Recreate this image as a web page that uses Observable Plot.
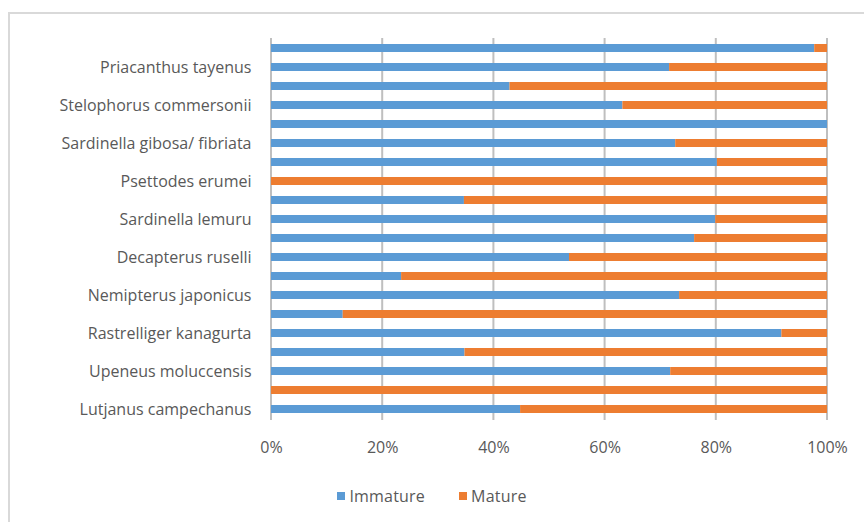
<!DOCTYPE html>
<html>
<head>
<meta charset="utf-8">
<script src="https://cdn.jsdelivr.net/npm/d3@7"></script>
<script src="https://cdn.jsdelivr.net/npm/@observablehq/plot@0.6"></script>
<style>
  html, body { margin: 0; padding: 0; background: #fff; }
  #wrap { position: relative; width: 864px; height: 522px; overflow: hidden; font-family: "Open Sans", sans-serif; }
  #frame { position: absolute; left: 8px; top: 12px; right: -4px; bottom: -4px;
           border-top: 2px solid #d9d9d9; border-left: 2px solid #d9d9d9; pointer-events: none; }
  #chart { position: absolute; left: 0; top: 0; }
  #legend { position: absolute; left: 0; width: 864px; top: 485px; display: flex; justify-content: center;
            gap: 34px; font-size: 16px; color: #595959; letter-spacing: 0.2px; }
  #legend span { display: inline-flex; align-items: center; gap: 4px; }
  #legend i { display: inline-block; width: 8px; height: 8px; }
</style>
</head>
<body>
<div id="wrap">
  <div id="frame"></div>
  <div id="chart"></div>
  <div id="legend"></div>
</div>
<script>
// Species rows, top to bottom; only every other row carries a label on the axis.
const species = [
  "", "Priacanthus tayenus",
  "", "Stelophorus commersonii",
  "", "Sardinella gibosa/ fibriata",
  "", "Psettodes erumei",
  "", "Sardinella lemuru",
  "", "Decapterus ruselli",
  "", "Nemipterus japonicus",
  "", "Rastrelliger kanagurta",
  "", "Upeneus moluccensis",
  "", "Lutjanus campechanus"
];

// Share of each maturity stage (%), same row order as above.
const immature = [97.7, 71.6, 42.9, 63.2, 100, 72.7, 80.2, 0, 34.7, 79.9,
                  76.1, 53.6, 23.4, 73.4, 12.9, 91.8, 34.8, 71.8, 0, 44.8];
const mature   = [2.3, 28.4, 57.1, 36.8, 0, 27.3, 19.8, 100, 65.3, 20.1,
                  23.9, 46.4, 76.6, 26.6, 87.1, 8.2, 65.2, 28.2, 100, 55.2];

const stages = ["Immature", "Mature"];
const colors = ["#5b9bd5", "#ed7d31"];
const xTicks = [0, 20, 40, 60, 80, 100];

const rows = species.map((_, i) => i);
const data = [];
rows.forEach(i => {
  data.push({row: i, stage: "Immature", value: immature[i]});
  data.push({row: i, stage: "Mature", value: mature[i]});
});

const chart = Plot.plot({
  width: 864,
  height: 470,
  marginTop: 38,
  marginBottom: 50,
  marginLeft: 271,
  marginRight: 37,
  style: {fontFamily: "'Open Sans', sans-serif", fontSize: "16px", color: "#595959", background: "transparent"},
  x: {domain: [0, 100]},
  y: {domain: rows, paddingInner: 0.56, paddingOuter: 0.28},
  color: {domain: stages, range: colors},
  marks: [
    // vertical gridlines at every 20%, snapped to whole pixels
    Plot.ruleX(xTicks, {x: d => d, stroke: "#bfbfbf", strokeWidth: 2, dx: -0.5}),
    Plot.barX(data, Plot.stackX({x: "value", y: "row", fill: "stage", order: stages})),
    Plot.axisX(xTicks, {tickSize: 0, tickPadding: 21, tickFormat: d => d + "%", label: null, fontSize: 16}),
    Plot.axisY(rows, {tickSize: 0, tickPadding: 20, tickFormat: i => species[i], label: null, fontSize: 16})
  ]
});
document.getElementById("chart").appendChild(chart);

const legend = document.getElementById("legend");
stages.forEach((s, k) => {
  const item = document.createElement("span");
  item.innerHTML = `<i style="background:${colors[k]}"></i>${s}`;
  legend.appendChild(item);
});
</script>
</body>
</html>
